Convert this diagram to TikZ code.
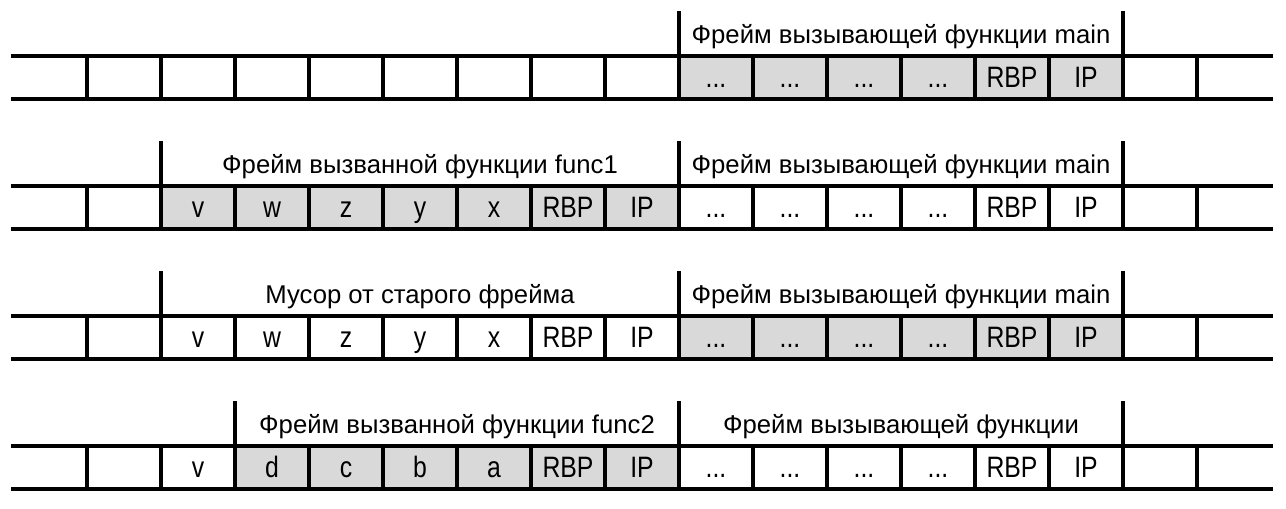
\documentclass[tikz,border=0pt]{standalone}
\usepackage{fontspec}
\setmainfont{Liberation Sans}
\newfontfamily\cellfont[FakeStretch=0.84]{Liberation Sans}
\definecolor{cellgray}{HTML}{D9D9D9}
\newcommand\mydots{...}
\tikzset{
  grid/.style={line width=3.3pt, line cap=rect},
  cell/.style={minimum width=74pt, minimum height=43pt, inner sep=0pt, outer sep=0pt,
    text height=20pt, text depth=1pt, font=\cellfont\fontsize{29.5}{32}\selectfont},
  gcell/.style={cell, fill=cellgray},
  lbl/.style={inner sep=0pt, font=\fontsize{25.7}{30}\selectfont, anchor=base},
}
\begin{document}
\begin{tikzpicture}[x=1pt,y=-1pt]
\useasboundingbox (0,0) rectangle (1286,509);
% cell i center x = 50+74 i
% ---------- Row 1 ----------
\foreach \i/\t in {9/\mydots,10/\mydots,11/\mydots,12/\mydots,13/RBP,14/IP}
  \node[gcell] (a\i) at ({50+74*\i},77.5) {\t};
% ---------- Row 2 ----------
\foreach \i/\t in {2/v,3/w,4/z,5/y,6/x,7/RBP,8/IP}
  \node[gcell] (b\i) at ({50+74*\i},207.5) {\t};
\foreach \i/\t in {9/\mydots,10/\mydots,11/\mydots,12/\mydots,13/RBP,14/IP}
  \node[cell] (b\i) at ({50+74*\i},207.5) {\t};
% ---------- Row 3 ----------
\foreach \i/\t in {2/v,3/w,4/z,5/y,6/x,7/RBP,8/IP}
  \node[cell] (c\i) at ({50+74*\i},337.5) {\t};
\foreach \i/\t in {9/\mydots,10/\mydots,11/\mydots,12/\mydots,13/RBP,14/IP}
  \node[gcell] (c\i) at ({50+74*\i},337.5) {\t};
% ---------- Row 4 ----------
\node[cell] (d2) at ({50+74*2},467.5) {v};
\foreach \i/\t in {3/d,4/c,5/b,6/a,7/RBP,8/IP}
  \node[gcell] (d\i) at ({50+74*\i},467.5) {\t};
\foreach \i/\t in {9/\mydots,10/\mydots,11/\mydots,12/\mydots,13/RBP,14/IP}
  \node[cell] (d\i) at ({50+74*\i},467.5) {\t};
% ---------- grid lines ----------
\foreach \top in {56,186,316,446}{
  \draw[grid] (13,\top) -- (1271,\top);
  \draw[grid] (13,\top+43) -- (1271,\top+43);
  \foreach \k in {0,...,15}
    \draw[grid] ({87+74*\k},\top) -- ({87+74*\k},\top+43);
}
% label separators
\foreach \x in {679,1123} \draw[grid] (\x,12.5) -- (\x,56);
\foreach \x in {161,679,1123} \draw[grid] (\x,142.5) -- (\x,186);
\foreach \x in {161,679,1123} \draw[grid] (\x,272.5) -- (\x,316);
\foreach \x in {235,679,1123} \draw[grid] (\x,402.5) -- (\x,446);
% labels
\node[lbl] (l1) at (901,43.5) {Фрейм вызывающей функции main};
\node[lbl] (l2a) at (420,173.5) {Фрейм вызванной функции func1};
\node[lbl] (l2b) at (901,173.5) {Фрейм вызывающей функции main};
\node[lbl] (l3a) at (420,303.5) {Мусор от старого фрейма};
\node[lbl] (l3b) at (901,303.5) {Фрейм вызывающей функции main};
\node[lbl] (l4a) at (457,433.5) {Фрейм вызванной функции func2};
\node[lbl] (l4b) at (901,433.5) {Фрейм вызывающей функции};
\end{tikzpicture}
\end{document}
